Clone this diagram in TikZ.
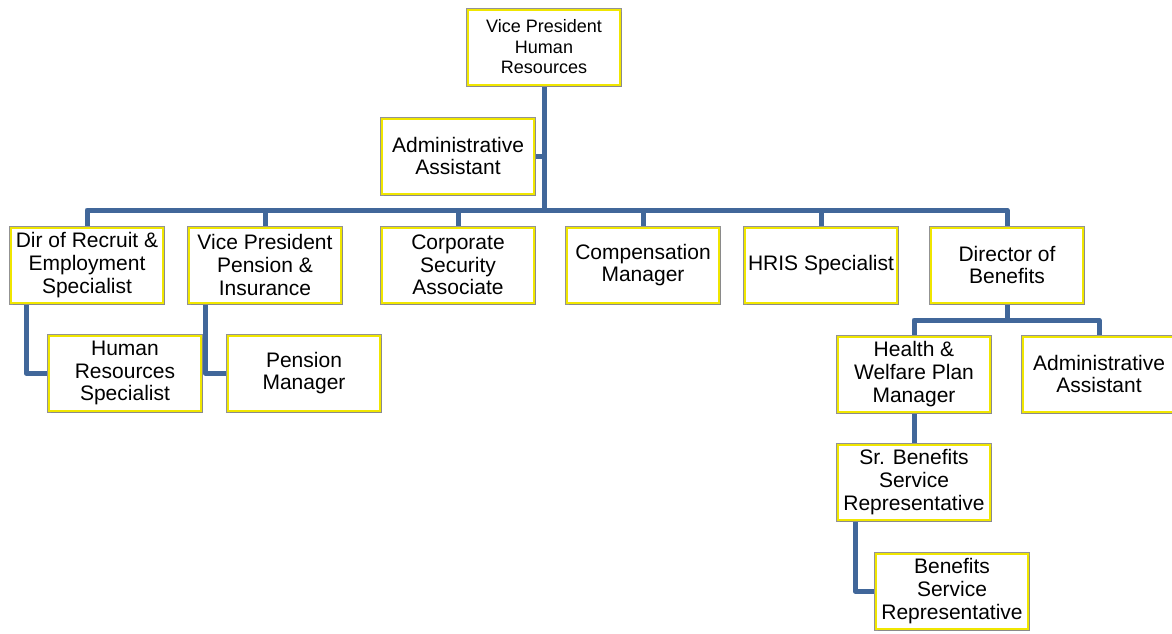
\documentclass[tikz,border=0pt]{standalone}
\usepackage{fontspec}
\setmainfont{Liberation Sans}
\usetikzlibrary{shadows,backgrounds}
\definecolor{linkblue}{HTML}{41679A}
\definecolor{boxyellow}{HTML}{F0E600}
\tikzset{
  orgbox/.style={rectangle, fill=white, draw=boxyellow, line width=2pt,
    preaction={draw=gray!85, line width=4pt},
    drop shadow={shadow xshift=1.5pt, shadow yshift=-2.5pt, opacity=0.45, fill=gray},
    minimum width=152pt, minimum height=75pt, inner sep=2pt, outer sep=0pt,
    align=center, font=\fontsize{21}{22.7}\selectfont},
  topbox/.style={orgbox, font=\fontsize{18}{20.5}\selectfont},
  link/.style={draw=linkblue, line width=5pt, line join=round, line cap=butt}
}
\begin{document}
\begin{tikzpicture}[x=1pt, y=-1pt]
\useasboundingbox (0,0) rectangle (1172,633);

% top of the hierarchy
\node[topbox] (vp) at (544,47) {Vice President\\Human\\Resources};
\node[orgbox] (aa) at (458,156) {Administrative\\Assistant};

% second level
\node[orgbox] (dr)  at (87,265)   {Dir of Recruit \&\\Employment\\Specialist};
\node[orgbox] (vpp) at (265,265)  {Vice President\\Pension \&\\Insurance};
\node[orgbox] (cs)  at (458,265)  {Corporate\\Security\\Associate};
\node[orgbox] (cm)  at (643,265)  {Compensation\\Manager};
\node[orgbox] (hr)  at (821,265)  {HRIS Specialist};
\node[orgbox] (db)  at (1007,265) {Director of\\Benefits};

% third level
\node[orgbox] (hrs) at (125,373) {Human\\Resources\\Specialist};
\node[orgbox] (pm)  at (304,373) {Pension\\Manager};
\node[orgbox] (hw)  at (914,374) {Health \&\\Welfare Plan\\Manager};
\node[orgbox] (aa2) at (1099,374) {Administrative\\Assistant};

% benefits service chain
\node[orgbox] (sr)  at (914,482) {Sr. Benefits\\Service\\Representative};
\node[orgbox] (bsr) at (952,591) {Benefits\\Service\\Representative};

\coordinate (bar)  at (544,210);
\coordinate (bar2) at (1007,320);

\begin{scope}[on background layer]
  \draw[link] (vp.south) -- (bar);
  \draw[link] (aa.east) -- (aa.east -| vp.south);
  \draw[link] (dr.north) |- (bar);
  \draw[link] (vpp.north) |- (bar);
  \draw[link] (cs.north) |- (bar);
  \draw[link] (cm.north) |- (bar);
  \draw[link] (hr.north) |- (bar);
  \draw[link] (db.north) |- (bar);
  \draw[link] ([xshift=15pt]dr.south west) |- (hrs.west);
  \draw[link] ([xshift=16pt]vpp.south west) |- (pm.west);
  \draw[link] (db.south) -- (bar2);
  \draw[link] (hw.north) |- (bar2);
  \draw[link] (aa2.north) |- (bar2);
  \draw[link] (hw.south) -- (sr.north);
  \draw[link] ([xshift=17pt]sr.south west) |- (bsr.west);
\end{scope}
\end{tikzpicture}
\end{document}
